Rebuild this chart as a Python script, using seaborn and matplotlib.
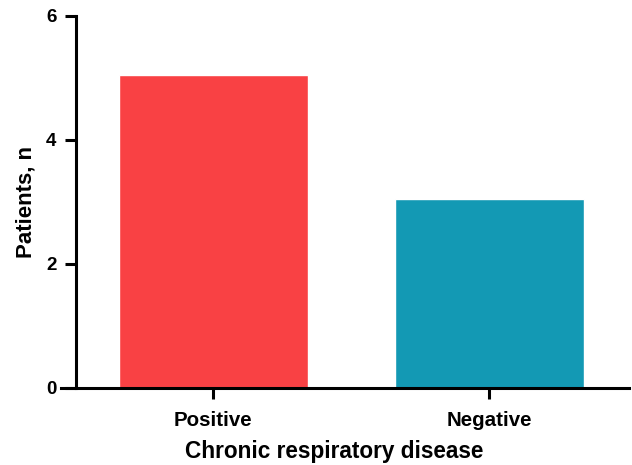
import matplotlib
matplotlib.use("Agg")
import matplotlib.pyplot as plt
import seaborn as sns
import pandas as pd

categories = ["Positive", "Negative"]
patients = [5.05, 3.05]
colors = ["#F94144", "#1399B4"]

df = pd.DataFrame({"group": categories, "n": patients})

sns.set_style("ticks")
plt.rcParams['font.family'] = ['Liberation Sans', 'DejaVu Sans']
plt.rcParams['text.color'] = 'black'
plt.rcParams['axes.labelcolor'] = 'black'
plt.rcParams['xtick.color'] = 'black'
plt.rcParams['ytick.color'] = 'black'

fig = plt.figure(figsize=(6.32, 4.65), dpi=100)
ax = fig.add_axes([0.120, 0.166, 0.876, 0.800])

sns.barplot(data=df, x="group", y="n", hue="group", palette=colors,
            width=0.685, saturation=1, legend=False, ax=ax)

ax.set_ylim(0, 6)
ax.set_yticks([0, 2, 4, 6])
ax.set_xlim(-0.498, 1.508)
ax.set_xlabel("Chronic respiratory disease", fontsize=16.3, fontweight="bold")
ax.set_ylabel("Patients, n", fontsize=16, fontweight="bold", labelpad=7)

for s in ["top", "right"]:
    ax.spines[s].set_visible(False)
for s in ["left", "bottom"]:
    ax.spines[s].set_linewidth(2.2)
    ax.spines[s].set_color("black")
ax.spines["bottom"].set_bounds(-0.55, 1.508)

ax.tick_params(axis="both", width=2.2, length=8, color="black")
ax.tick_params(axis="y", labelsize=13.5, pad=6)
ax.tick_params(axis="x", labelsize=14.8, pad=9)
for lbl in ax.get_xticklabels() + ax.get_yticklabels():
    lbl.set_fontweight("bold")
    lbl.set_color("black")

# label centred where the reference puts it
ax.xaxis.set_label_coords(0.466, -0.172)
ax.xaxis.label.set_verticalalignment("center")

fig.savefig("out.png", dpi=100)
